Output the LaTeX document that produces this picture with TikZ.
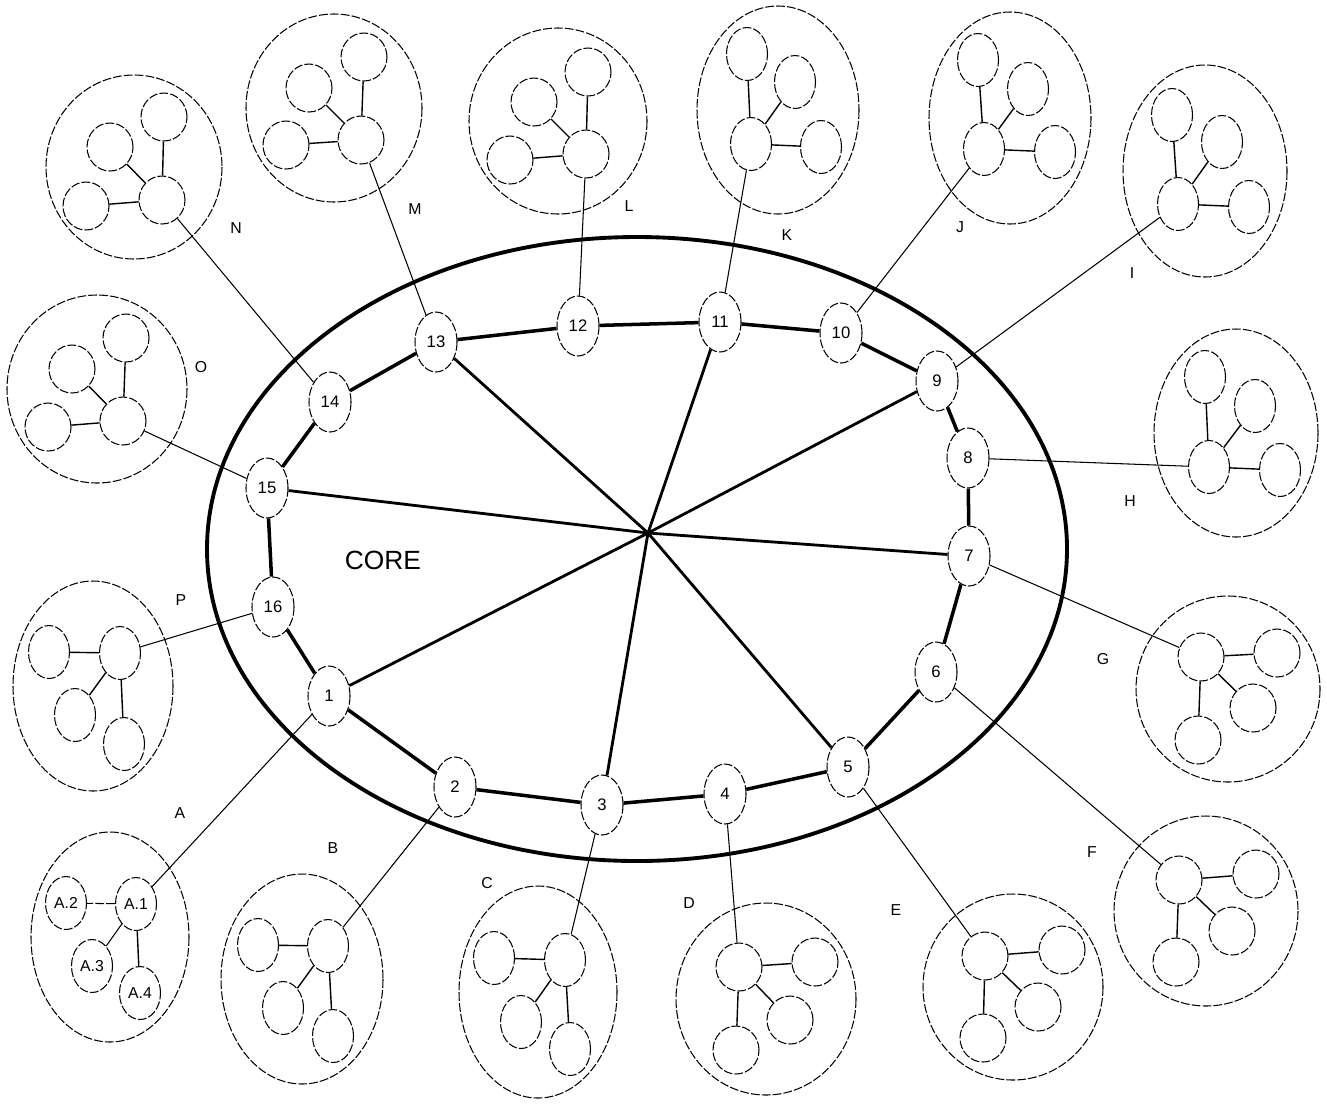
\documentclass[tikz,border=0pt]{standalone}
\usepackage{fontspec}
\setmainfont{Liberation Sans}
\usetikzlibrary{shapes.geometric}
\tikzset{
  pointille/.style={dash pattern=on 5pt off 1.2pt},
  noeud/.style={ellipse,draw,pointille,line width=0.6pt,inner sep=0pt,
                minimum width=0.84cm,minimum height=1.2cm,font=\fontsize{9.5}{11}\selectfont},
  satrond/.style={ellipse,draw,pointille,line width=0.6pt,inner sep=0pt,
                minimum width=0.92cm,minimum height=0.96cm},
  satlong/.style={ellipse,draw,pointille,line width=0.6pt,inner sep=0pt,
                minimum width=0.82cm,minimum height=1.06cm,font=\fontsize{9}{10}\selectfont},
  grappe/.style={draw,pointille,line width=0.6pt},
  anneau/.style={line width=2pt},
  rayon/.style={line width=1.6pt},
  fil/.style={line width=0.6pt},
  lien/.style={line width=0.8pt},
  lettre/.style={font=\fontsize{9}{10}\selectfont,inner sep=0pt},
}
\begin{document}
\begin{tikzpicture}[x=0.02cm,y=-0.02cm]
  \useasboundingbox (0,0) rectangle (1327,1103);
  % le coeur
  \draw[line width=2.2pt] (637,549) ellipse [x radius=430, y radius=312];
  \node[font=\fontsize{15}{18}\selectfont] (core) at (383,560) {CORE};
  \coordinate (centre) at (648,533);
  \foreach \i/\x/\y in {1/329/696,2/455/787,3/602/805,4/725/794,5/848/767,6/936/672,
      7/969/556,8/968/458,9/937/381,10/841/333,11/720/322,12/578/326,13/436/342,
      14/330/402,15/267/488,16/273/607}
    \node[noeud] (n\i) at (\x,\y) {\i};
  \foreach \i/\j in {1/2,2/3,3/4,4/5,5/6,6/7,7/8,8/9,9/10,10/11,11/12,12/13,13/14,14/15,15/16,16/1}
    \draw[anneau] (n\i) -- (n\j);
  \foreach \i in {1,3,5,7,9,11,13,15}
    \draw[rayon] (n\i) -- (centre);
  % grappes
  \draw[grappe] (110,937) ellipse [x radius=79, y radius=105];
  \node[satlong] (A1) at (136,904) {A.1};
  \node[satlong] (A2) at (66,903) {A.2};
  \node[satlong] (A3) at (92,966) {A.3};
  \node[satlong] (A4) at (140,993) {A.4};
  \draw[fil,pointille] (A1) -- (A2);
  \draw[fil] (A1) -- (A3);
  \draw[lien] (A1) -- (A4);
  \foreach \grp/\ox/\oy/\rx/\ry/\ax/\ay/\bx/\by/\cx/\cy/\dx/\dy in {
      B/302/979/81/105/328/946/258/945/283/1008/333/1036,
      C/538/992/79/106/565/960/494/958/521/1022/570/1049,
      H/1236/433/82/104/1209/467/1205/377/1255/406/1280/470,
      I/1205/171/82/106/1178/204/1172/115/1222/142/1249/207,
      J/1010/118/81/106/984/149/978/60/1028/89/1055/152,
      K/778/110/81/104/751/144/747/54/795/82/821/147,
      P/93/686/80/105/120/653/49/652/75/715/124/744}{
    \draw[grappe] (\ox,\oy) ellipse [x radius=\rx, y radius=\ry];
    \node[satlong] (\grp1) at (\ax,\ay) {};
    \node[satlong] (\grp2) at (\bx,\by) {};
    \node[satlong] (\grp3) at (\cx,\cy) {};
    \node[satlong] (\grp4) at (\dx,\dy) {};
    \foreach \k in {2,3,4} \draw[lien] (\grp1) -- (\grp\k);
  }
  \foreach \grp/\ox/\oy/\rx/\ry/\ax/\ay/\bx/\by/\cx/\cy/\dx/\dy in {
      D/766/999/90/96/739/967/815/962/790/1020/736/1050,
      E/1013/987/90/93/985/956/1062/950/1038/1007/983/1038,
      F/1206/911/92/95/1179/880/1256/874/1232/931/1176/962,
      G/1228/689/92/93/1201/657/1277/653/1253/708/1198/740,
      L/558/121/89/93/586/154/510/160/534/102/588/72,
      M/334/108/88/94/361/140/286/145/309/88/364/57,
      N/134/167/88/92/162/200/86/206/110/147/164/117,
      O/97/389/90/94/123/421/48/427/72/369/126/338}{
    \draw[grappe] (\ox,\oy) ellipse [x radius=\rx, y radius=\ry];
    \node[satrond] (\grp1) at (\ax,\ay) {};
    \node[satrond] (\grp2) at (\bx,\by) {};
    \node[satrond] (\grp3) at (\cx,\cy) {};
    \node[satrond] (\grp4) at (\dx,\dy) {};
    \foreach \k in {2,3,4} \draw[lien] (\grp1) -- (\grp\k);
  }
  % liens coeur -> grappes
  \foreach \i/\grp in {1/A,2/B,3/C,4/D,5/E,6/F,7/G,8/H,9/I,10/J,11/K,12/L,13/M,14/N,15/O,16/P}
    \draw[fil] (n\i) -- (\grp1);
  \foreach \grp/\x/\y in {A/180/813,B/333/848,C/487/883,D/689/903,E/896/910,F/1092/852,
      G/1103/659,H/1130/501,I/1132/273,J/960/227,K/787/235,L/629/206,M/415/209,
      N/236/228,O/201/367,P/181/600}
    \node[lettre] (l\grp) at (\x,\y) {\grp};
\end{tikzpicture}
\end{document}
